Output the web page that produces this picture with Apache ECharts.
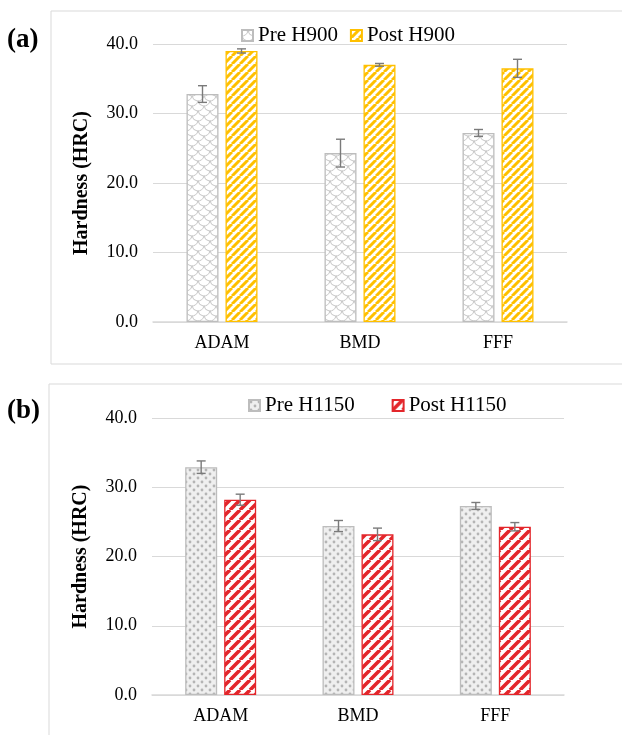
<!DOCTYPE html>
<html>
<head>
<meta charset="utf-8">
<script src="https://cdn.jsdelivr.net/npm/echarts/dist/echarts.min.js"></script>
<style>
  html, body { margin: 0; padding: 0; background: #fff; }
  #chart { width: 622px; height: 735px; }
</style>
</head>
<body>
<div id="chart"></div>
<script>
// Hardness (HRC) per build process, before and after heat treatment
const categories = ['ADAM', 'BMD', 'FFF'];
const yTicks = [0, 10, 20, 30, 40];

const preH900 = [32.8, 24.3, 27.2];
const preH900Err = [1.2, 2.0, 0.5];
const postH900 = [39.0, 37.0, 36.5];
const postH900Err = [0.3, 0.2, 1.3];

const preH1150 = [32.9, 24.4, 27.3];
const preH1150Err = [0.9, 0.8, 0.5];
const postH1150 = [28.2, 23.2, 24.3];
const postH1150Err = [0.8, 0.9, 0.6];

const FONT = '"Liberation Serif", "Times New Roman", serif';
const BAR_W = 32;
const BAR_GAP = 7;

// ---- fill patterns ----
function makeCanvas(w, h, bg) {
  const c = document.createElement('canvas');
  c.width = w; c.height = h;
  const g = c.getContext('2d');
  g.fillStyle = bg;
  g.fillRect(0, 0, w, h);
  return [c, g];
}

function stripePattern(color, period, width) {
  const [c, g] = makeCanvas(period, period, '#ffffff');
  g.strokeStyle = color;
  g.lineWidth = width;
  g.beginPath();
  for (let k = -1; k <= 1; k++) {
    g.moveTo(k * period, period);
    g.lineTo(k * period + period, 0);
  }
  g.stroke();
  return c;
}

function scalePattern(color) {
  const w = 12, h = 10, r = 6;
  const [c, g] = makeCanvas(w, h, '#ffffff');
  g.strokeStyle = color;
  g.lineWidth = 1;
  const centers = [[0, 0], [w, 0], [w / 2, h / 2], [0, h], [w, h], [w / 2, -h / 2]];
  centers.forEach(([cx, cy]) => {
    g.beginPath();
    g.arc(cx, cy, r, 0.15, Math.PI - 0.15);
    g.stroke();
  });
  return c;
}

function dotPattern(bg, dot) {
  const [c, g] = makeCanvas(8, 8, bg);
  g.fillStyle = dot;
  [[2, 2], [6, 6]].forEach(([x, y]) => {
    g.beginPath();
    g.arc(x, y, 1.4, 0, Math.PI * 2);
    g.fill();
  });
  return c;
}

const fillPreH900 = { image: scalePattern('#c6c6c6'), repeat: 'repeat' };
const fillPostH900 = { image: stripePattern('#FFC000', 8, 3), repeat: 'repeat' };
const fillPreH1150 = { image: dotPattern('#efefef', '#b4b4b4'), repeat: 'repeat' };
const fillPostH1150 = { image: stripePattern('#E3262B', 10, 3.6), repeat: 'repeat' };

// ---- axes ----
function xAxisFor(gridIndex) {
  return {
    type: 'category', gridIndex, data: categories,
    axisLine: { lineStyle: { color: '#d9d9d9', width: 1.5 } },
    axisTick: { show: false },
    axisLabel: { color: '#000', fontFamily: FONT, fontSize: 18, margin: 12 }
  };
}
function yAxisFor(gridIndex) {
  return {
    type: 'value', gridIndex,
    min: yTicks[0], max: yTicks[yTicks.length - 1], interval: yTicks[1] - yTicks[0],
    name: 'Hardness (HRC)', nameLocation: 'middle', nameGap: 61,
    nameTextStyle: { color: '#000', fontFamily: FONT, fontSize: 20, fontWeight: 'bold' },
    axisLine: { show: false }, axisTick: { show: false },
    axisLabel: { color: '#000', fontFamily: FONT, fontSize: 18, margin: 15,
      formatter: v => v.toFixed(1) },
    splitLine: { lineStyle: { color: '#d9d9d9', width: 1.2 } }
  };
}

function barSeries(name, values, fill, border, gi) {
  return {
    type: 'bar', name, xAxisIndex: gi, yAxisIndex: gi, data: values,
    barWidth: BAR_W, barGap: (BAR_GAP / BAR_W * 100) + '%',
    itemStyle: { color: fill, borderColor: border, borderWidth: 1.3 },
    emphasis: { disabled: true }
  };
}

// I-shaped error bars centred on each bar (side -1 = left bar, +1 = right bar)
function errorSeries(values, errs, side, gi) {
  return {
    type: 'custom', xAxisIndex: gi, yAxisIndex: gi, silent: true, z: 10,
    data: values.map((v, i) => [i, v - errs[i], v + errs[i]]),
    renderItem(params, api) {
      const i = api.value(0);
      const x = api.coord([i, 0])[0] + side * (BAR_W + BAR_GAP) / 2;
      const lo = api.coord([i, api.value(1)])[1];
      const hi = api.coord([i, api.value(2)])[1];
      const cap = 4.5;
      const style = { stroke: '#7a7a7a', lineWidth: 1.4 };
      return {
        type: 'group',
        children: [
          { type: 'line', shape: { x1: x, y1: lo, x2: x, y2: hi }, style },
          { type: 'line', shape: { x1: x - cap, y1: lo, x2: x + cap, y2: lo }, style },
          { type: 'line', shape: { x1: x - cap, y1: hi, x2: x + cap, y2: hi }, style }
        ]
      };
    }
  };
}

const legendText = { color: '#000', fontFamily: FONT, fontSize: 21, padding: [0, 0, 0, 0] };

const option = {
  animation: false,
  backgroundColor: '#fff',
  graphic: [
    { type: 'rect', shape: { x: 51, y: 11, width: 620, height: 353 },
      style: { fill: 'none', stroke: '#d9d9d9', lineWidth: 1 }, silent: true },
    { type: 'rect', shape: { x: 49, y: 384, width: 620, height: 400 },
      style: { fill: 'none', stroke: '#d9d9d9', lineWidth: 1 }, silent: true },
    { type: 'text', left: 7, top: 27,
      style: { text: '(a)', font: 'bold 27px ' + FONT, fill: '#000' } },
    { type: 'text', left: 7, top: 398,
      style: { text: '(b)', font: 'bold 27px ' + FONT, fill: '#000' } }
  ],
  legend: [
    { data: ['Pre H900', 'Post H900'], left: 236, top: 20, itemWidth: 11, itemHeight: 11,
      itemGap: 12, icon: 'rect', textStyle: legendText, selectedMode: false },
    { data: ['Pre H1150', 'Post H1150'], left: 243, top: 390, itemWidth: 11, itemHeight: 11,
      itemGap: 37, icon: 'rect', textStyle: legendText, selectedMode: false }
  ],
  grid: [
    { left: 153, right: 55, top: 44, height: 278 },
    { left: 152, right: 58, top: 418, height: 277 }
  ],
  xAxis: [xAxisFor(0), xAxisFor(1)],
  yAxis: [yAxisFor(0), yAxisFor(1)],
  series: [
    barSeries('Pre H900', preH900, fillPreH900, '#bdbdbd', 0),
    barSeries('Post H900', postH900, fillPostH900, '#FFC000', 0),
    errorSeries(preH900, preH900Err, -1, 0),
    errorSeries(postH900, postH900Err, 1, 0),
    barSeries('Pre H1150', preH1150, fillPreH1150, '#bdbdbd', 1),
    barSeries('Post H1150', postH1150, fillPostH1150, '#E3262B', 1),
    errorSeries(preH1150, preH1150Err, -1, 1),
    errorSeries(postH1150, postH1150Err, 1, 1)
  ]
};

const chart = echarts.init(document.getElementById('chart'), null, { renderer: 'canvas' });
chart.setOption(option);
</script>
</body>
</html>
